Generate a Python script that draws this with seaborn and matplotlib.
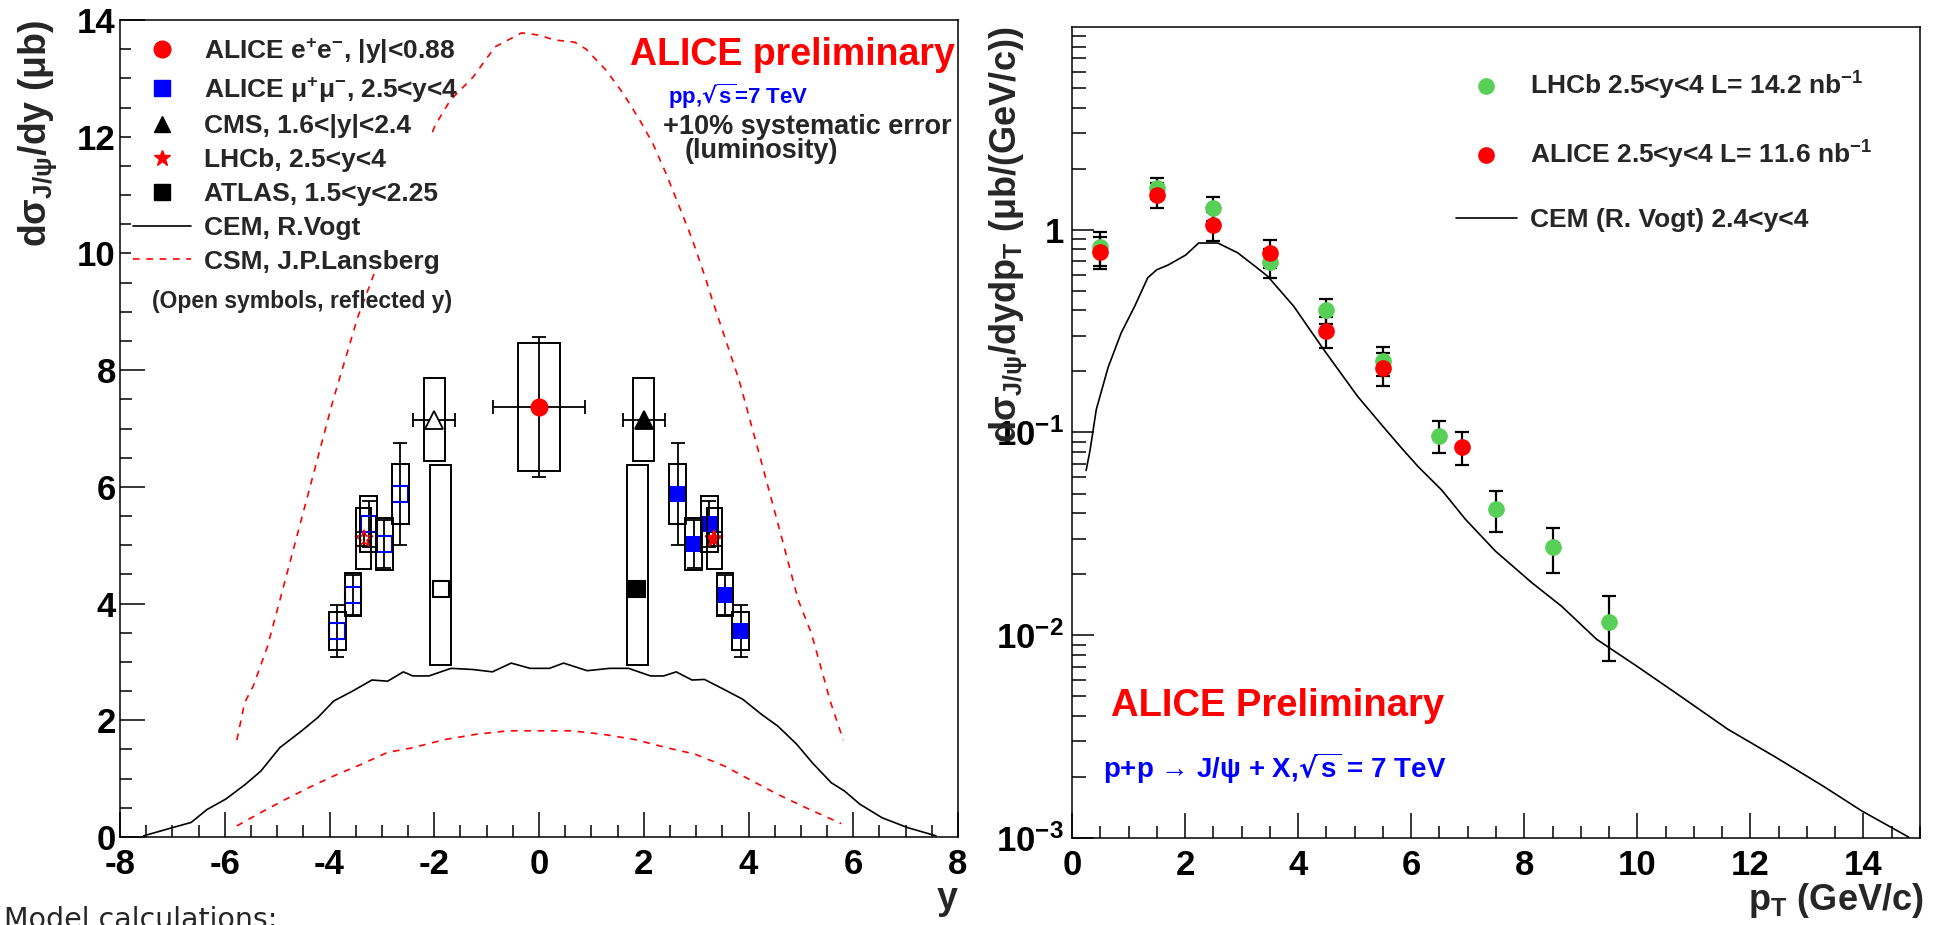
import matplotlib
matplotlib.use("Agg")
import matplotlib.pyplot as plt
from matplotlib.patches import Rectangle
from matplotlib.lines import Line2D
from matplotlib.ticker import MultipleLocator, LogLocator, NullFormatter
import seaborn as sns

# ---------------- left panel: dsigma/dy versus rapidity ----------------
cem_rap = [-7.55, -7.0, -6.64, -6.34, -5.98, -5.61, -5.31, -4.95, -4.53, -4.22, -3.92,
           -3.56, -3.19, -2.89, -2.59, -2.41, -2.10, -1.68, -1.26, -0.89, -0.53, -0.17,
           0.20, 0.47, 0.92, 1.35, 1.71, 2.13, 2.38, 2.62, 2.92, 3.16, 3.53, 3.89, 4.25,
           4.56, 4.92, 5.22, 5.58, 5.83, 6.13, 6.55, 7.04, 7.58]
cem_dsdy = [0.02, 0.16, 0.25, 0.47, 0.65, 0.90, 1.13, 1.53, 1.82, 2.05, 2.33,
            2.50, 2.69, 2.67, 2.83, 2.76, 2.76, 2.89, 2.87, 2.83, 2.98, 2.89,
            2.89, 2.98, 2.85, 2.89, 2.89, 2.76, 2.76, 2.83, 2.69, 2.70, 2.53, 2.36, 2.10,
            1.90, 1.59, 1.27, 0.93, 0.79, 0.56, 0.33, 0.16, 0.02]

csm_low_rap = [-5.77, -5.31, -4.83, -4.34, -3.86, -3.38, -2.89, -2.41, -1.80, -1.20, -0.59,
               0.01, 0.62, 1.22, 1.83, 2.44, 2.98, 3.53, 4.01, 4.56, 5.10, 5.77]
csm_low_dsdy = [0.19, 0.42, 0.65, 0.87, 1.07, 1.25, 1.45, 1.53, 1.67, 1.76, 1.82,
                1.82, 1.82, 1.76, 1.67, 1.53, 1.42, 1.22, 0.99, 0.73, 0.50, 0.23]

csm_up_rap = [-5.77, -5.62, -5.45, -5.19, -4.95, -4.44, -3.93, -3.46, -3.17, -1.98, -1.69,
              -1.26, -0.84, -0.33, 0.01, 0.28, 0.68, 0.90, 1.28, 1.60, 1.92, 2.17, 2.42,
              2.68, 2.93, 3.17, 3.31, 3.82, 4.20, 4.58, 4.95, 5.20, 5.45, 5.56, 5.81]
csm_up_dsdy = [1.66, 2.30, 2.60, 3.25, 4.05, 5.77, 7.49, 8.91, 9.60, 12.20, 12.63,
               13.02, 13.54, 13.78, 13.74, 13.66, 13.62, 13.50, 13.14, 12.75, 12.29, 11.89, 11.38,
               10.80, 10.23, 9.60, 9.20, 7.83, 6.58, 5.31, 4.06, 3.49, 2.69, 2.33, 1.66]

# ALICE e+e- (|y|<0.88)
ee_rap = [0.0]
ee_val = [7.37]
ee_rap_err = [0.88]
ee_stat = [1.20]
ee_sys = [1.10]

# ALICE mu+mu- (2.5<y<4)
mumu_rap = [2.65, 2.95, 3.25, 3.55, 3.85]
mumu_val = [5.88, 5.02, 5.36, 4.15, 3.53]
mumu_stat = [0.87, 0.41, 0.39, 0.34, 0.44]
mumu_sys = [0.52, 0.45, 0.48, 0.37, 0.32]

# CMS (1.6<|y|<2.4)
cms_rap = [2.0]
cms_val = [7.15]
cms_rap_err = [0.4]
cms_sys_low = [6.44]
cms_sys_high = [7.86]

# LHCb (2.5<y<4)
lhcb_rap = [3.35]
lhcb_val = [5.11]
lhcb_stat = [0.12]
lhcb_sys = [0.52]

# ATLAS (1.5<y<2.25)
atlas_rap = [1.875]
atlas_val = [4.25]
atlas_sys_low = [2.95]
atlas_sys_high = [6.37]

# ---------------- right panel: dsigma/dydpT versus pT ----------------
lhcb_pt = [0.5, 1.5, 2.5, 3.5, 4.5, 5.5, 6.5, 7.5, 8.5, 9.5]
lhcb_xsec = [0.82, 1.61, 1.28, 0.69, 0.40, 0.226, 0.0966, 0.0418, 0.0271, 0.0116]
lhcb_xsec_err = [0.16, 0.19, 0.17, 0.11, 0.057, 0.037, 0.017, 0.0095, 0.0068, 0.0041]

alice_pt = [0.5, 1.5, 2.5, 3.5, 4.5, 5.5, 6.9]
alice_xsec = [0.78, 1.49, 1.05, 0.77, 0.315, 0.209, 0.085]
alice_xsec_err = [0.14, 0.21, 0.17, 0.12, 0.055, 0.039, 0.016]

cem_pt = [0.25, 0.32, 0.43, 0.64, 0.87, 1.11, 1.34, 1.50, 1.70, 2.01, 2.24, 2.58, 2.93,
          3.27, 3.46, 3.92, 4.45, 5.05, 5.49, 5.81, 6.12, 6.54, 6.96, 7.49, 8.13, 8.66,
          9.28, 10.02, 10.76, 11.60, 12.44, 13.29, 13.97, 14.80]
cem_xsec = [0.065, 0.082, 0.13, 0.21, 0.31, 0.42, 0.58, 0.635, 0.67, 0.75, 0.86, 0.86, 0.77,
            0.65, 0.59, 0.42, 0.257, 0.151, 0.108, 0.085, 0.068, 0.052, 0.0373, 0.026, 0.0182,
            0.0139, 0.00955, 0.00695, 0.00501, 0.00344, 0.00251, 0.0018, 0.00136, 0.00101]

# ---------------- style ----------------
sns.set_theme(style="white")
plt.rcParams["font.family"] = ["Liberation Sans", "DejaVu Sans"]
plt.rcParams["font.weight"] = "bold"
plt.rcParams["mathtext.fontset"] = "dejavusans"
plt.rcParams["mathtext.default"] = "regular"
plt.rcParams["axes.unicode_minus"] = False

RED = "#ff0000"
BLUE = "#0000ff"
GREEN = "#58d058"
DASH = (0, (4, 4))

W, H = 1935, 925
fig = plt.figure(figsize=(W / 100, H / 100), dpi=100)
fig.patch.set_facecolor("white")


def frame(left, top, right, bottom):
    return [left / W, 1 - bottom / H, (right - left) / W, (bottom - top) / H]


axL = fig.add_axes(frame(120, 20, 958, 837))
axR = fig.add_axes(frame(1072, 27, 1920, 838))

for ax in (axL, axR):
    ax.set_facecolor("white")
    for sp in ax.spines.values():
        sp.set_color("black")
        sp.set_linewidth(1.1)
        sp.set_zorder(10)
    ax.tick_params(which="both", direction="in", bottom=True, left=True, top=False,
                   right=False, colors="black", width=1.1, labelsize=25)
    ax.tick_params(which="major", length=18)
    ax.tick_params(which="minor", length=8.5)
    ax.tick_params(axis="x", pad=8)
    ax.tick_params(axis="y", pad=3)


def sys_boxes(ax, xs, lows, highs, half):
    for x, lo, hi in zip(xs, lows, highs):
        ax.add_patch(Rectangle((x - half, lo), 2 * half, hi - lo, fill=False,
                               edgecolor="black", linewidth=1.4, zorder=5))


# ---- left panel curves ----
sns.lineplot(x=cem_rap, y=cem_dsdy, ax=axL, color="black", linewidth=1.2,
             sort=False, estimator=None, zorder=2)
sns.lineplot(x=csm_up_rap, y=csm_up_dsdy, ax=axL, color=RED, linewidth=1.2,
             linestyle=DASH, sort=False, estimator=None, zorder=2)
sns.lineplot(x=csm_low_rap, y=csm_low_dsdy, ax=axL, color=RED, linewidth=1.2,
             linestyle=DASH, sort=False, estimator=None, zorder=2)

# ---- left panel data: filled at +y, open reflected at -y ----
eb = dict(fmt="none", ecolor="black", elinewidth=1.3, capsize=5, capthick=1.3, zorder=3)
for sign, fill in ((1, True), (-1, False)):
    r = lambda v: [sign * t for t in v]

    # ALICE e+e- sits at y = 0, drawn once
    if sign == 1:
        axL.errorbar(ee_rap, ee_val, yerr=ee_stat, xerr=ee_rap_err, **eb)
        axL.plot(ee_rap, ee_val, "o", color=RED, markersize=12, zorder=4)
        sys_boxes(axL, ee_rap, [v - s for v, s in zip(ee_val, ee_sys)],
                  [v + s for v, s in zip(ee_val, ee_sys)], 0.4)

    # ALICE mu+mu-
    axL.errorbar(r(mumu_rap), mumu_val, yerr=mumu_stat, **eb)
    axL.plot(r(mumu_rap), mumu_val, "s", markersize=12, linestyle="none",
             markerfacecolor=BLUE if fill else "none", markeredgecolor=BLUE,
             markeredgewidth=1.5 if not fill else 0, zorder=4)
    sys_boxes(axL, r(mumu_rap), [v - s for v, s in zip(mumu_val, mumu_sys)],
              [v + s for v, s in zip(mumu_val, mumu_sys)], 0.16)

    # CMS
    axL.errorbar(r(cms_rap), cms_val, xerr=cms_rap_err, **eb)
    axL.plot(r(cms_rap), cms_val, "^", markersize=13, linestyle="none",
             markerfacecolor="black" if fill else "white", markeredgecolor="black",
             markeredgewidth=1.3, zorder=4)
    sys_boxes(axL, r(cms_rap), cms_sys_low, cms_sys_high, 0.2)

    # LHCb
    axL.errorbar(r(lhcb_rap), lhcb_val, yerr=lhcb_stat, **eb)
    axL.plot(r(lhcb_rap), lhcb_val, "*", markersize=13, linestyle="none",
             markerfacecolor=RED if fill else "none", markeredgecolor=RED,
             markeredgewidth=1.2, zorder=4)
    sys_boxes(axL, r(lhcb_rap), [v - s for v, s in zip(lhcb_val, lhcb_sys)],
              [v + s for v, s in zip(lhcb_val, lhcb_sys)], 0.15)

    # ATLAS
    axL.plot(r(atlas_rap), atlas_val, "s", markersize=12, linestyle="none",
             markerfacecolor="black" if fill else "white", markeredgecolor="black",
             markeredgewidth=1.5, zorder=4)
    sys_boxes(axL, r(atlas_rap), atlas_sys_low, atlas_sys_high, 0.2)

axL.set_xlim(-8, 8)
axL.set_ylim(0, 14)
axL.xaxis.set_major_locator(MultipleLocator(2))
axL.xaxis.set_minor_locator(MultipleLocator(0.5))
axL.yaxis.set_major_locator(MultipleLocator(2))
axL.yaxis.set_minor_locator(MultipleLocator(0.5))
axL.set_xlabel("")
axL.set_ylabel("")

# white legend pad hiding the curves behind the entries
axL.add_patch(Rectangle((0.013, 9.75 / 14), 0.359, 0.998 - 9.75 / 14,
                        transform=axL.transAxes, facecolor="white", edgecolor="none",
                        zorder=3))

left_handles = [
    Line2D([], [], marker="o", color=RED, linestyle="none", markersize=12),
    Line2D([], [], marker="s", color=BLUE, linestyle="none", markersize=11),
    Line2D([], [], marker="^", color="black", linestyle="none", markersize=12),
    Line2D([], [], marker="*", color=RED, linestyle="none", markersize=12),
    Line2D([], [], marker="s", color="black", linestyle="none", markersize=11),
    Line2D([], [], color="black", linewidth=1.2),
    Line2D([], [], color=RED, linewidth=1.2, linestyle=DASH),
]
left_labels = [
    "ALICE e$^{+}$e$^{-}$, |y|<0.88",
    "ALICE μ$^{+}$μ$^{-}$, 2.5<y<4",
    "CMS, 1.6<|y|<2.4",
    "LHCb, 2.5<y<4",
    "ATLAS, 1.5<y<2.25",
    "CEM, R.Vogt",
    "CSM, J.P.Lansberg",
]
legL = axL.legend(left_handles, left_labels, loc="upper left", bbox_to_anchor=(0.0155, 0.980),
                  frameon=False, fontsize=19, handlelength=2.2, handletextpad=0.5,
                  labelspacing=0.37, borderpad=0, borderaxespad=0)
legL.set_zorder(6)

axL.text(0.038, 0.655, "(Open symbols, reflected y)", transform=axL.transAxes,
         fontsize=16.5, ha="left", va="center", zorder=6)
axL.text(0.9964, 0.957, "ALICE preliminary", transform=axL.transAxes, color=RED,
         fontsize=27, ha="right", va="center", zorder=6)
axL.text(0.654, 0.907, "pp,$\\sqrt{\\mathregular{s}}$=7 TeV", transform=axL.transAxes,
         color=BLUE, fontsize=16, ha="left", va="center", zorder=6)
axL.text(0.648, 0.869, "+10% systematic error", transform=axL.transAxes,
         fontsize=19.5, ha="left", va="center", zorder=6)
axL.text(0.674, 0.840, "(luminosity)", transform=axL.transAxes,
         fontsize=19.5, ha="left", va="center", zorder=6)

# ---- right panel ----
sns.lineplot(x=cem_pt, y=cem_xsec, ax=axR, color="black", linewidth=1.2,
             sort=False, estimator=None, zorder=2)

ebr = dict(fmt="none", ecolor="black", elinewidth=1.6, capsize=5, capthick=1.6, zorder=3)
axR.errorbar(lhcb_pt, lhcb_xsec, yerr=lhcb_xsec_err, **ebr)
axR.plot(lhcb_pt, lhcb_xsec, "o", color=GREEN, markersize=11, linestyle="none", zorder=4)
axR.errorbar(alice_pt, alice_xsec, yerr=alice_xsec_err, **ebr)
axR.plot(alice_pt, alice_xsec, "o", color=RED, markersize=11, linestyle="none", zorder=5)

axR.set_yscale("log")
axR.set_xlim(0, 15)
axR.set_ylim(1e-3, 10)
axR.xaxis.set_major_locator(MultipleLocator(2))
axR.xaxis.set_minor_locator(MultipleLocator(0.5))
axR.set_yticks([1e-3, 1e-2, 1e-1, 1],
               labels=["$\\mathregular{10^{-3}}$", "$\\mathregular{10^{-2}}$",
                       "$\\mathregular{10^{-1}}$", "1"])
axR.yaxis.set_minor_locator(LogLocator(base=10, subs=range(2, 10)))
axR.yaxis.set_minor_formatter(NullFormatter())
axR.tick_params(axis="y", which="minor", length=10)
axR.tick_params(axis="y", which="major", length=16, pad=6, labelsize=25)
axR.set_xlabel("")
axR.set_ylabel("")

right_handles = [
    Line2D([], [], marker="o", color=GREEN, linestyle="none", markersize=11),
    Line2D([], [], marker="o", color=RED, linestyle="none", markersize=11),
    Line2D([], [], color="black", linewidth=1.2),
]
right_labels = [
    "LHCb 2.5<y<4 L= 14.2 nb$^{-1}$",
    "ALICE 2.5<y<4 L= 11.6 nb$^{-1}$",
    "CEM (R. Vogt) 2.4<y<4",
]
axR.legend(right_handles, right_labels, loc="upper left", bbox_to_anchor=(0.453, 0.947),
           frameon=False, fontsize=19, handlelength=2.3, handletextpad=0.5,
           labelspacing=1.4, borderpad=0, borderaxespad=0)

axR.text(0.046, 0.163, "ALICE Preliminary", transform=axR.transAxes, color=RED,
         fontsize=27.5, ha="left", va="center")
axR.text(0.036, 0.086, "p+p → J/ψ + X,$\\sqrt{\\mathregular{s}}$ = 7 TeV",
         transform=axR.transAxes, color=BLUE, fontsize=20, ha="left", va="center")

# ---- axis titles ----
fig.text(38 / W, 1 - 20 / H, "dσ$_{\\mathregular{J/ψ}}$/dy (μb)", rotation=90,
         fontsize=27, ha="center", va="top")
fig.text(1008 / W, 1 - 27 / H,
         "dσ$_{\\mathregular{J/ψ}}$/dydp$_{\\mathregular{T}}$ (μb/(GeV/c))",
         rotation=90, fontsize=26, ha="center", va="top")
fig.text(958 / W, 1 - 909 / H, "y", fontsize=27, ha="right", va="baseline")
fig.text(1924 / W, 1 - 910 / H, "p$_{\\mathregular{T}}$ (GeV/c)", fontsize=26,
         ha="right", va="baseline")

fig.text(4 / W, 1 - 928 / H, "Model calculations:", fontsize=20.5, fontweight="normal",
         family="DejaVu Sans", ha="left", va="baseline")

fig.savefig("out.png", dpi=100, facecolor="white")
